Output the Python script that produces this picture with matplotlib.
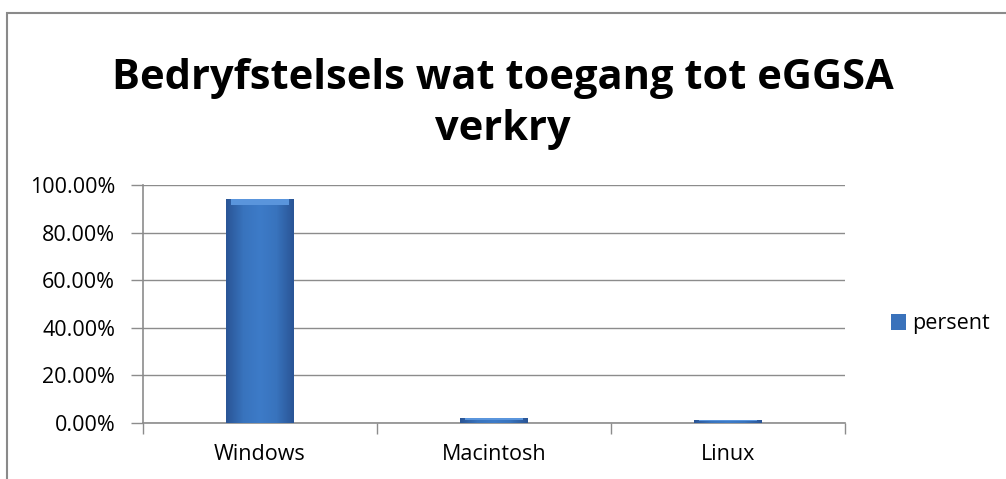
import numpy as np
import matplotlib.pyplot as plt
from matplotlib.patches import Rectangle
from matplotlib.colors import LinearSegmentedColormap
from matplotlib.ticker import FuncFormatter

categories = ['Windows', 'Macintosh', 'Linux']
persent = [0.942, 0.019, 0.012]
series_name = 'persent'
title = 'Bedryfstelsels wat toegang tot eGGSA\nverkry'

plt.rcParams['font.family'] = ['Open Sans', 'DejaVu Sans']

fig = plt.figure(figsize=(10.06, 4.79), dpi=100)

# outer chart frame (cut off on the right and bottom)
fig.patches.append(Rectangle((7 / 1006, -0.1), 1.2, 1 - 13 / 479 + 0.1,
                             transform=fig.transFigure, fill=False,
                             edgecolor='#8a8a8a', linewidth=1.5))

ax = fig.add_axes([143 / 1006, 1 - 423 / 479, 702 / 1006, 238 / 479])

x = range(len(categories))
bars = ax.bar(x, persent, width=0.29, color='#3a72bb', edgecolor='none',
              linewidth=0, label=series_name, zorder=3)

# soft bevel shading on each bar
shade = LinearSegmentedColormap.from_list(
    'shade', ['#2a5596', '#3873bd', '#3d7bc8', '#3873bd', '#2a5596'])
grad = np.linspace(0, 1, 64).reshape(1, -1)
for b in bars:
    bx, bw, bh = b.get_x(), b.get_width(), b.get_height()
    im = ax.imshow(grad, cmap=shade, aspect='auto', zorder=4,
                   extent=(bx, bx + bw, 0, bh))
    im.set_clip_path(b)
    cap = min(0.025, bh * 0.3)
    ax.bar(bx + bw / 2, cap, bottom=bh - cap, width=bw * 0.85,
           color='#5a95dc', linewidth=0, zorder=5)

ax.set_xlim(-0.5, 2.5)
ax.set_ylim(0, 1.0)
ax.set_yticks([0, 0.2, 0.4, 0.6, 0.8, 1.0])
ax.yaxis.set_major_formatter(FuncFormatter(lambda v, p: f'{v * 100:.2f}%'))
ax.grid(axis='y', color='#8c8c8c', linewidth=1.0, zorder=0)

ax.set_xticks([-0.5, 0.5, 1.5, 2.5])
ax.set_xticklabels([])
ax.set_xticks(list(x), minor=True)
ax.set_xticklabels(categories, minor=True)
ax.tick_params(axis='x', which='major', length=8, color='#8c8c8c', width=1)
ax.tick_params(axis='x', which='minor', length=0, pad=15, labelsize=15.5)
ax.tick_params(axis='y', length=9, color='#8c8c8c', width=1, labelsize=15.5, pad=11)

for s in ['top', 'right']:
    ax.spines[s].set_visible(False)
for s in ['left', 'bottom']:
    ax.spines[s].set_color('#8c8c8c')
    ax.spines[s].set_linewidth(1.2)

fig.text(0.5, 1 - 104 / 479, title, ha='center', va='center',
         fontsize=30, fontweight='bold', linespacing=1.35)

fig.legend(handles=[bars], labels=[series_name], loc='center left',
           bbox_to_anchor=(872 / 1006, 1 - 324 / 479), frameon=False,
           fontsize=15.5, handlelength=0.7, handleheight=0.7, handletextpad=0.25)

fig.savefig('out.png', dpi=100)
